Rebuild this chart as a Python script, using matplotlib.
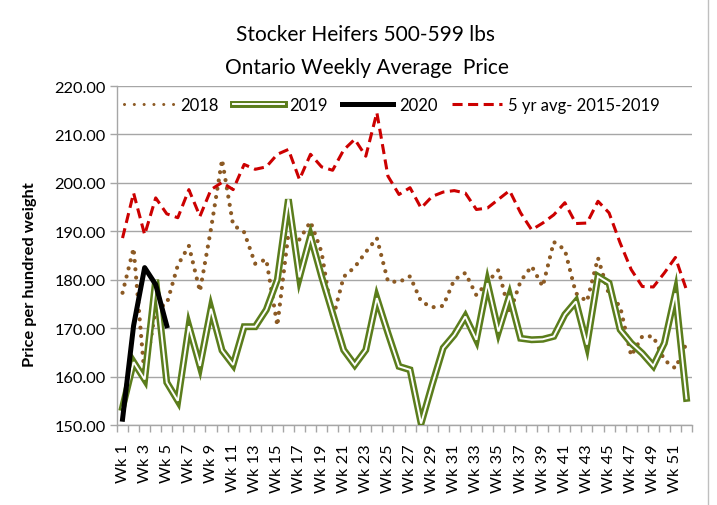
import matplotlib
matplotlib.use("Agg")
import matplotlib.pyplot as plt
from matplotlib.lines import Line2D
from matplotlib.legend_handler import HandlerTuple
from matplotlib.ticker import FormatStrFormatter, MultipleLocator, FixedLocator

plt.rcParams['font.family'] = ['Lato', 'DejaVu Sans']

weeks = [f"Wk {i}" for i in range(1, 53)]

y2018 = [177.3, 186.5, 160.0, 174.0, 175.0, 183.0, 187.0, 177.6, 190.5, 204.8,
         191.3, 189.8, 183.3, 184.2, 170.5, 189.5, 188.3, 192.0, 185.7, 171.8,
         180.6, 182.6, 185.7, 188.6, 179.7, 179.5, 180.7, 175.5, 174.3, 174.6,
         180.0, 181.4, 176.8, 179.5, 182.0, 173.1, 179.7, 182.8, 178.6, 187.8,
         186.2, 177.2, 175.5, 184.5, 176.9, 174.5, 164.3, 168.3, 168.3, 163.4,
         161.7, 166.9]

y2019 = [153.6, 163.0, 159.4, 180.0, 158.8, 155.0, 170.4, 162.2, 174.0, 165.4,
         162.4, 170.3, 170.3, 173.8, 180.0, 196.6, 180.5, 189.0, 180.7, 173.1,
         165.5, 162.4, 165.5, 176.2, 169.0, 162.1, 161.4, 150.3, 158.3, 165.9,
         168.6, 172.4, 167.6, 179.3, 169.3, 176.7, 167.9, 167.6, 167.7, 168.3,
         172.8, 175.5, 166.6, 180.7, 179.3, 169.7, 166.9, 164.8, 162.2, 166.9,
         177.2, 155.5]

y2020 = [151.2, 170.5, 182.5, 179.0, 170.5]

avg5 = [188.6, 197.9, 189.3, 196.9, 193.6, 192.8, 198.6, 193.1, 198.6, 200.1,
        198.6, 203.8, 202.8, 203.3, 205.9, 206.9, 200.7, 205.9, 203.3, 202.6,
        206.8, 209.0, 205.5, 214.5, 201.4, 197.6, 199.0, 194.8, 197.2, 198.1,
        198.4, 197.9, 194.5, 194.8, 196.6, 198.4, 193.8, 190.3, 191.7, 193.4,
        195.9, 191.6, 191.7, 196.2, 193.8, 187.6, 182.1, 178.6, 178.5, 181.4,
        184.6, 177.9]

series_names = ["2018", "2019", "2020", "5 yr avg- 2015-2019"]
title_lines = ["Stocker Heifers 500-599 lbs", "Ontario Weekly Average  Price"]
ylabel = "Price per hundred weight"

BROWN = '#8c5a24'
GREEN = '#5b7d1c'
RED = '#cc0000'
GRID = '#a6a6a6'

fig = plt.figure(figsize=(7.17, 5.06), dpi=100)
ax = fig.add_axes([117/717, 1-426/506, (692-117)/717, (426-87)/506])

x = list(range(len(weeks)))

ax.plot(x, y2018, color=BROWN, lw=3.0, linestyle=(0, (0.01, 2.0)),
        dash_capstyle='round', zorder=3)
ax.plot(x, y2019, color=GREEN, lw=5.0, solid_joinstyle='miter', zorder=4)
ax.plot(x, y2019, color='white', lw=1.4, solid_joinstyle='miter', zorder=5)
ax.plot(x[:len(y2020)], y2020, color='black', lw=3.6, zorder=7)
ax.plot(x, avg5, color=RED, lw=2.2, linestyle=(0, (3.3, 1.8)), zorder=6)

ax.set_xlim(-0.5, len(weeks) - 0.5)
ax.set_ylim(150, 220)
ax.yaxis.set_major_locator(MultipleLocator(10))
ax.yaxis.set_major_formatter(FormatStrFormatter('%.2f'))
ax.grid(axis='y', color=GRID, lw=1.0, zorder=0)
ax.set_axisbelow(True)

ax.set_xticks(x[::2])
ax.set_xticklabels(weeks[::2], rotation=90, fontsize=11.8)
ax.xaxis.set_minor_locator(FixedLocator([i - 0.5 for i in range(len(weeks) + 1)]))
ax.tick_params(axis='x', which='major', length=0, pad=13)
ax.tick_params(axis='x', which='minor', length=5, color=GRID, width=1)
ax.tick_params(axis='y', which='major', length=5, color=GRID, width=1, labelsize=11.8, pad=3)

for s in ['top', 'right']:
    ax.spines[s].set_visible(False)
for s in ['left', 'bottom']:
    ax.spines[s].set_color(GRID)
    ax.spines[s].set_linewidth(1.0)

ax.set_ylabel(ylabel, fontsize=11.8, fontweight='bold')
ax.yaxis.set_label_coords((37 - 117) / 575, 0.447)

h2018 = Line2D([], [], color=BROWN, lw=2.2, linestyle=(0, (0.01, 3.2)), dash_capstyle='round')
h2019 = (Line2D([], [], color=GREEN, lw=5.0), Line2D([], [], color='white', lw=1.4))
h2020 = Line2D([], [], color='black', lw=3.6)
havg = Line2D([], [], color=RED, lw=2.2, linestyle=(0, (3.3, 1.8)))
leg = ax.legend([h2018, h2019, h2020, havg], series_names, ncol=4, frameon=False,
                loc='center left', bbox_to_anchor=(0.0, 0.944), borderaxespad=0,
                fontsize=12, handlelength=3.05, handletextpad=0.35, columnspacing=0.85,
                handler_map={tuple: HandlerTuple(ndivide=1)})

fig.text(365/717, 1-35/506, title_lines[0], ha='center', va='center', fontsize=15)
fig.text(367/717, 1-68/506, title_lines[1], ha='center', va='center', fontsize=15)

fig.add_artist(Line2D([708/717, 708/717], [0, 1], transform=fig.transFigure, color='#bfbfbf', lw=1))

fig.savefig('out.png', dpi=100)
